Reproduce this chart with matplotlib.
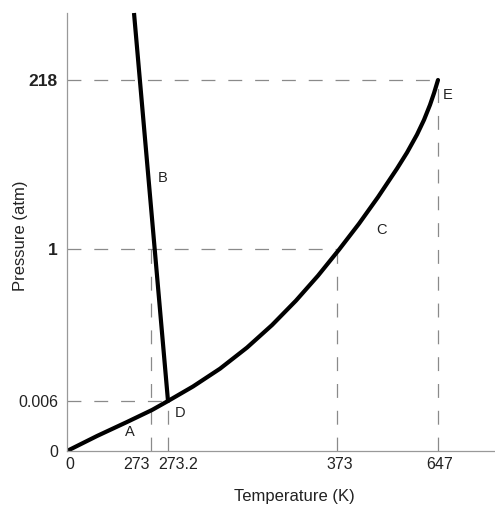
import matplotlib
matplotlib.use("Agg")
import matplotlib.pyplot as plt
from matplotlib.transforms import ScaledTranslation

plt.rcParams['font.family'] = ['Liberation Sans', 'DejaVu Sans']
plt.rcParams['lines.scale_dashes'] = False

# Schematic (non-linear) axis: tick labels and their positions on the diagram
x_tick_labels = ["0", "273", "273.2", "373", "647"]
x_tick_pos = [0, 84, 101, 270, 371]
y_tick_labels = ["0", "0.006", "1", "218"]
y_tick_pos = [0, 50, 202, 371]

# Phase boundary curves (schematic units)
sub_x = [0, 30, 60, 85, 101]
sub_y = [0, 15, 29, 41, 50]
melt_x = [101, 67]
melt_y = [50, 438]
vap_x = [101, 126, 153, 180, 205, 229, 251, 272, 292, 311, 330, 340, 350, 357, 363, 367, 371]
vap_y = [50, 64.5, 82.3, 103.4, 125.9, 150.4, 175.3, 201.3, 227.3, 253.9, 282.4, 298.4,
         316.4, 331.1, 346.1, 357.8, 371]

point_labels = ["A", "B", "C", "D", "E"]
point_lx = [63, 96, 315, 113, 381]
point_ly = [19, 273, 221, 38, 356]

fig = plt.figure(figsize=(4.95, 5.08), dpi=100)
ax = fig.add_axes([67/495, 1 - 451/508, (495 - 67)/495, (451 - 13)/508])
ax.set_xlim(0, 428)
ax.set_ylim(0, 438)

dash = (0, (10, 9.3))
gc = '#8a8a8a'
glw = 0.9
# guide lines
ax.plot([0, x_tick_pos[4]], [y_tick_pos[3]] * 2, color=gc, lw=glw, ls=dash)
ax.plot([x_tick_pos[4]] * 2, [0, y_tick_pos[3]], color=gc, lw=glw, ls=dash)
ax.plot([0, x_tick_pos[3]], [y_tick_pos[2]] * 2, color=gc, lw=glw, ls=dash)
ax.plot([x_tick_pos[3]] * 2, [0, y_tick_pos[2]], color=gc, lw=glw, ls=dash)
ax.plot([x_tick_pos[1]] * 2, [0, y_tick_pos[2]], color=gc, lw=glw, ls=dash)
ax.plot([0, x_tick_pos[2]], [y_tick_pos[1]] * 2, color=gc, lw=glw, ls=dash)
ax.plot([x_tick_pos[2]] * 2, [0, y_tick_pos[1]], color=gc, lw=glw, ls=dash)

# curves
lw = 3.0
ax.plot(sub_x, sub_y, color='black', lw=lw, solid_capstyle='round', solid_joinstyle='round')
ax.plot(melt_x, melt_y, color='black', lw=lw, solid_capstyle='butt', clip_on=False)
ax.plot(vap_x, vap_y, color='black', lw=lw, solid_capstyle='round', solid_joinstyle='round')

for t, x, y in zip(point_labels, point_lx, point_ly):
    ax.text(x, y, t, fontsize=10.5, ha='center', va='center', color='#222222')

for s in ['top', 'right']:
    ax.spines[s].set_visible(False)
for s in ['left', 'bottom']:
    ax.spines[s].set_color('#999999')
    ax.spines[s].set_linewidth(0.9)

ax.set_xticks(x_tick_pos)
ax.set_xticklabels(x_tick_labels)
ax.set_yticks(y_tick_pos)
ax.set_yticklabels(y_tick_labels)
ax.tick_params(axis='both', length=0, labelsize=11.5, colors='#222222')
ax.tick_params(axis='x', pad=4)
ax.tick_params(axis='y', pad=6.5)

x_offsets = [3, -14, 10, 3, 2]
for lab, dx in zip(ax.get_xticklabels(), x_offsets):
    lab.set_transform(lab.get_transform() + ScaledTranslation(dx / 100, 0, fig.dpi_scale_trans))
for lab in ax.get_yticklabels():
    if lab.get_text() in ("218", "1"):
        lab.set_fontweight('bold')
        lab.set_fontsize(12.5)

ax.set_xlabel("Temperature (K)", fontsize=12, color='#222222')
ax.set_ylabel("Pressure (atm)", fontsize=12, color='#222222')
ax.xaxis.set_label_coords((294 - 67) / 428, -(497 - 451) / 438)
ax.yaxis.set_label_coords(-(67 - 21) / 428, (451 - 236) / 438)
ax.xaxis.label.set_va('center')
ax.yaxis.label.set_va('center')

fig.savefig("out.png", dpi=100)
